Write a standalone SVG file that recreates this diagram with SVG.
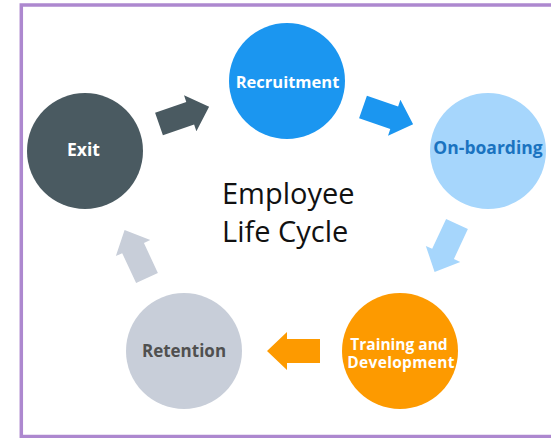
<svg xmlns="http://www.w3.org/2000/svg" width="551" height="438" viewBox="0 0 551 438">
  <style>
    .label { font-family: "Open Sans", "Liberation Sans", sans-serif; font-weight: 700; text-anchor: middle; }
    .title { font-family: "Open Sans", "Liberation Sans", sans-serif; font-weight: 400; font-size: 29px; fill: #111111; }
  </style>
  <defs>
    <!-- block arrow pointing along +x, tail at origin -->
    <path id="blockArrow" d="M0,-12 L33,-12 L33,-19 L53,0 L33,19 L33,12 L0,12 Z"/>
  </defs>

  <rect x="0" y="0" width="551" height="438" fill="#ffffff"/>
  <!-- frame -->
  <rect x="21.3" y="5" width="600" height="431.5" fill="none" stroke="#ad88cf" stroke-width="3.5"/>

  <g id="connectors">
    <use href="#blockArrow" fill="#4a5a61" transform="translate(159,124) rotate(-19)"/>
    <use href="#blockArrow" fill="#1b96f0" transform="translate(363,107) rotate(19)"/>
    <use href="#blockArrow" fill="#a6d6fc" transform="translate(457,224) rotate(115)"/>
    <use href="#blockArrow" fill="#fd9a00" transform="translate(320,351) rotate(180)"/>
    <use href="#blockArrow" fill="#c8ced9" transform="translate(147,278) rotate(-115)"/>
  </g>

  <g id="exit">
    <circle cx="85" cy="151" r="58" fill="#4a5a61"/>
    <text class="label" x="83.5" y="156" font-size="17.5" fill="#ffffff">Exit</text>
  </g>

  <g id="recruitment">
    <circle cx="287" cy="81" r="58" fill="#1b96f0"/>
    <text class="label" x="287.5" y="88" font-size="16.5" fill="#ffffff">Recruitment</text>
  </g>

  <g id="onboarding">
    <circle cx="488" cy="151" r="58" fill="#a6d6fc"/>
    <text class="label" x="488" y="154" font-size="17.5" fill="#1a73c0">On-boarding</text>
  </g>

  <g id="training">
    <circle cx="400" cy="351" r="58" fill="#fd9a00"/>
    <text class="label" x="399" y="350" font-size="15.5" font-weight="600" fill="#ffffff">Training and</text>
    <text class="label" x="401" y="368" font-size="15.5" font-weight="600" letter-spacing="0.3" fill="#ffffff">Development</text>
  </g>

  <g id="retention">
    <circle cx="184" cy="351" r="58" fill="#c8ced9"/>
    <text class="label" x="184" y="357" font-size="17" fill="#505050">Retention</text>
  </g>

  <g id="title">
    <text class="title" x="222" y="204">Employee</text>
    <text class="title" x="222" y="242">Life Cycle</text>
  </g>
</svg>
